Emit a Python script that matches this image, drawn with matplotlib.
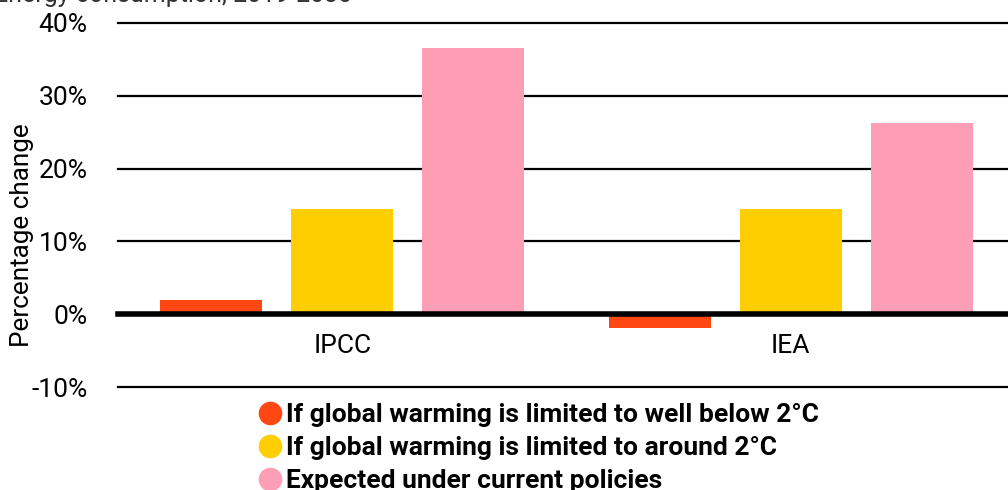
import matplotlib
matplotlib.use('Agg')
import matplotlib.pyplot as plt
from matplotlib.lines import Line2D
import numpy as np

plt.rcParams['font.family'] = ['Roboto', 'DejaVu Sans']

# data
groups = ['IPCC', 'IEA']
series = ['If global warming is limited to well below 2°C',
          'If global warming is limited to around 2°C',
          'Expected under current policies']
below_2c = [2.0, -1.9]
around_2c = [14.5, 14.4]
current = [36.6, 26.2]
colors = ['#ff4714', '#ffce00', '#fd9db6']
yticks = [-10, 0, 10, 20, 30, 40]
ytick_labels = ['-10%', '0%', '10%', '20%', '30%', '40%']

W, H = 1008, 490
fig = plt.figure(figsize=(W / 100, H / 100), dpi=100)
# axes: x from 118px, y from 23px (40%) to 387px (-10%)
ax = fig.add_axes([118 / W, 1 - 387 / H, 897 / W, (387 - 23) / H])

x = np.arange(len(groups))
bw = 0.227
off = 0.292
for i, vals in enumerate([below_2c, around_2c, current]):
    ax.bar(x + (i - 1) * off, vals, width=bw, color=colors[i], zorder=2)

# gridlines
for t in yticks:
    ax.axhline(t, color='black', lw=4 if t == 0 else 1.6, zorder=3 if t == 0 else 1,
               clip_on=False)

ax.set_xlim(-0.5, 1.5)
ax.set_ylim(-10, 40)
ax.set_yticks(yticks)
ax.set_yticklabels(ytick_labels, fontsize=19)
ax.tick_params(axis='y', length=0, pad=22)
ax.set_xticks([])
for s in ax.spines.values():
    s.set_visible(False)

for xi, g in zip(x, groups):
    ax.text(xi, -4.4, g, ha='center', va='center', fontsize=19)

fig.text(22 / W, 1 - 235 / H, 'Percentage change', rotation=90,
         ha='center', va='center', fontsize=18.8)

# title sits mostly above the top edge, as in the reference
fig.text(352 / W, 1 - 2 / H, 'Energy consumption, 2019-2030', ha='right',
         va='baseline', fontsize=18, color='#333333')

handles = [Line2D([0], [0], marker='o', linestyle='', markersize=16,
                  markerfacecolor=c, markeredgecolor=c) for c in colors]
leg = fig.legend(handles, series, loc='upper left',
                 bbox_to_anchor=(254 / W, 1 - 403 / H), frameon=False,
                 prop={'weight': 'bold', 'size': 19}, handletextpad=0.0,
                 labelspacing=0.34, handlelength=1.2, borderaxespad=0, borderpad=0)

fig.savefig('out.png', dpi=100)
